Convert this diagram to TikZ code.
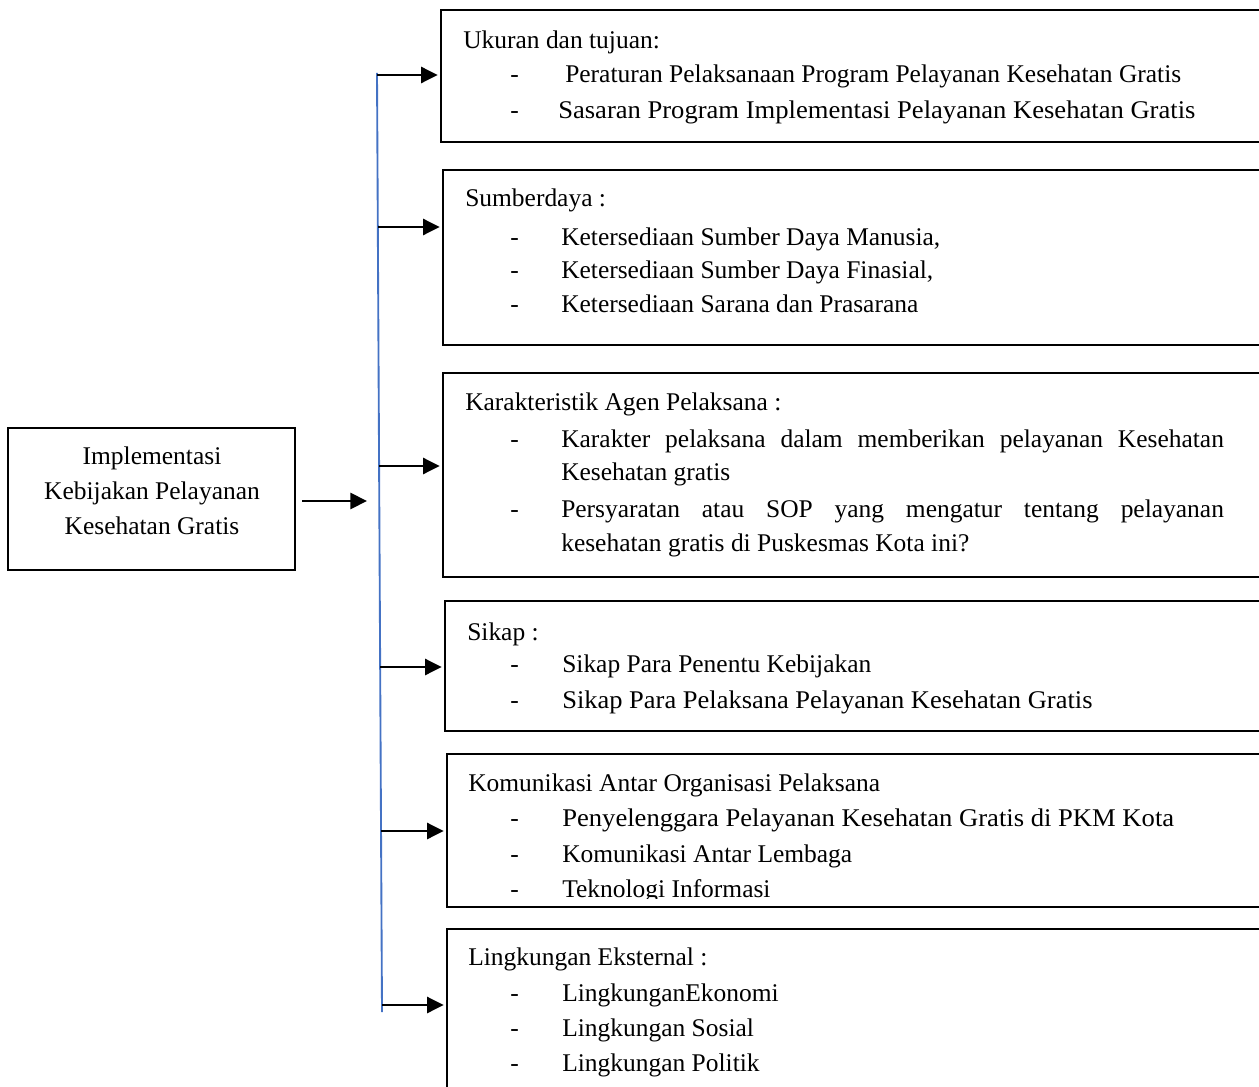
\documentclass[tikz,border=0pt]{standalone}
\usepackage{fontspec}
\usepackage{graphicx}
\setmainfont{Liberation Serif}
\usetikzlibrary{arrows.meta}
\definecolor{spineblue}{RGB}{68,114,196}
\tikzset{
  boxst/.style={draw=black, line width=1.5pt, fill=none},
  arr/.style={line width=2.1pt, -{Triangle[length=12.5pt,width=12pt]}},
  txt/.style={anchor=base west, inner sep=0pt, font=\fontsize{19.1}{22}\selectfont},
  ctxt/.style={anchor=base, inner sep=0pt, font=\fontsize{19.1}{22}\selectfont},
}
\begin{document}
\begin{tikzpicture}[x=0.75pt,y=-0.75pt]
\useasboundingbox (0,0) rectangle (1259,1087);
\clip (0,0) rectangle (1259,1087);
% main box
\draw[boxst] (8,428) rectangle (295,570);
\node[ctxt] (m1) at (152,464) {Implementasi};
\node[ctxt] (m2) at (152,499) {Kebijakan Pelayanan};
\node[ctxt] (m3) at (152,534) {Kesehatan Gratis};
% spine
\coordinate (top) at (377,73);
\coordinate (bot) at (382,1012);
\draw[spineblue, line width=1.4pt] (top) -- (bot);
\coordinate (mstart) at (302,501);
\coordinate (hub) at (367,501);
\draw[arr] (mstart) -- (hub);
% boxes
\draw[boxst] (441,10) rectangle (1270,142);
\coordinate (b1w) at (441,75);
\draw[boxst] (443,170) rectangle (1270,345);
\coordinate (b2w) at (443,227);
\draw[boxst] (443,373) rectangle (1270,577);
\coordinate (b3w) at (443,466);
\draw[boxst] (445,601) rectangle (1270,731);
\coordinate (b4w) at (445,667);
\draw[boxst] (447,754) rectangle (1270,907);
\coordinate (b5w) at (447,831);
\draw[boxst] (447,929) rectangle (1270,1100);
\coordinate (b6w) at (447,1005);
% arrows from spine
\coordinate (s1) at (377,75);
\coordinate (s2) at (378,227);
\coordinate (s3) at (379,466);
\coordinate (s4) at (380,667);
\coordinate (s5) at (381,831);
\coordinate (s6) at (382,1005);
\draw[arr] (s1) -- ([xshift=-2.5pt]b1w);
\draw[arr] (s2) -- ([xshift=-2.5pt]b2w);
\draw[arr] (s3) -- ([xshift=-2.5pt]b3w);
\draw[arr] (s4) -- ([xshift=-2.5pt]b4w);
\draw[arr] (s5) -- ([xshift=-2.5pt]b5w);
\draw[arr] (s6) -- ([xshift=-2.5pt]b6w);
% box 1 text
\node[txt] (t1) at (463,49) {Ukuran dan tujuan:};
\node[txt] (d11) at (510,83) {-};
\node[txt] (i11) at (565,83) {Peraturan Pelaksanaan Program Pelayanan Kesehatan Gratis};
\node[txt] (d12) at (510,119) {-};
\node[txt] (i12) at (558,119) {\scalebox{1.044}[1]{Sasaran Program Implementasi Pelayanan Kesehatan Gratis}};
% box 2 text
\node[txt] (t2) at (465,207) {Sumberdaya :};
\node[txt] (d21) at (510,246) {-};
\node[txt] (i21) at (561,246) {Ketersediaan Sumber Daya Manusia,};
\node[txt] (d22) at (510,279) {-};
\node[txt] (i22) at (561,279) {Ketersediaan Sumber Daya Finasial,};
\node[txt] (d23) at (510,313) {-};
\node[txt] (i23) at (561,313) {Ketersediaan Sarana dan Prasarana};
% box 3 text
\node[txt] (t3) at (465,410) {Karakteristik Agen Pelaksana :};
\node[txt] (d31) at (510,447) {-};
\node[txt] (i31) at (561,447) {\makebox[497pt][s]{Karakter pelaksana dalam memberikan pelayanan Kesehatan}};
\node[txt] (i31b) at (561,480) {Kesehatan gratis};
\node[txt] (d32) at (510,517) {-};
\node[txt] (i32) at (561,517) {\makebox[497pt][s]{Persyaratan atau SOP yang mengatur tentang pelayanan}};
\node[txt] (i32b) at (561,551) {kesehatan gratis di Puskesmas Kota ini?};
% box 4 text
\node[txt] (t4) at (467,640) {Sikap :};
\node[txt] (d41) at (510,672) {-};
\node[txt] (i41) at (562,672) {Sikap Para Penentu Kebijakan};
\node[txt] (d42) at (510,708) {-};
\node[txt] (i42) at (562,708) {\scalebox{1.04}[1]{Sikap Para Pelaksana Pelayanan Kesehatan Gratis}};
% box 5 text
\node[txt] (t5) at (468,791) {Komunikasi Antar Organisasi Pelaksana};
\node[txt] (d51) at (510,826) {-};
\node[txt] (i51) at (562,826) {\scalebox{1.045}[1]{Penyelenggara Pelayanan Kesehatan Gratis di PKM Kota}};
\node[txt] (d52) at (510,862) {-};
\node[txt] (i52) at (562,862) {Komunikasi Antar Lembaga};
\begin{scope}
\clip (447,866) rectangle (1259,898);
\node[txt] (d53) at (510,897) {-};
\node[txt] (i53) at (562,897) {Teknologi Informasi};
\end{scope}
% box 6 text
\node[txt] (t6) at (468,965) {Lingkungan Eksternal :};
\node[txt] (d61) at (510,1001) {-};
\node[txt] (i61) at (562,1001) {LingkunganEkonomi};
\node[txt] (d62) at (510,1036) {-};
\node[txt] (i62) at (562,1036) {Lingkungan Sosial};
\node[txt] (d63) at (510,1071) {-};
\node[txt] (i63) at (562,1071) {Lingkungan Politik};
\end{tikzpicture}
\end{document}
